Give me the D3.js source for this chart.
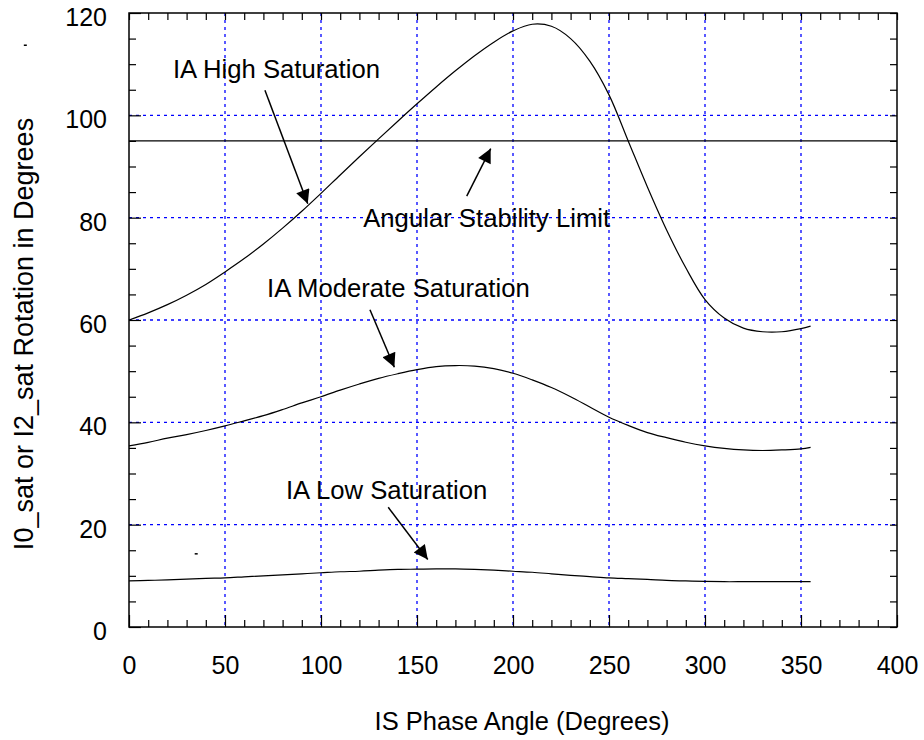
<!DOCTYPE html>
<html>
<head>
<meta charset="utf-8">
<script src="https://cdn.jsdelivr.net/npm/d3@7.9.0/dist/d3.min.js"></script>
<style>
  body { margin: 0; background: #fff; }
  svg text { font-family: 'Liberation Sans', Arial, sans-serif; fill: #000; }
</style>
</head>
<body>
<div id="chart"></div>
<script>
// Phase angle samples (degrees)
const phaseAngles = [0, 10, 20, 30, 40, 50, 60, 70, 80, 90, 100, 110, 120, 130, 140, 150, 160, 170,
  180, 190, 200, 210, 220, 230, 240, 250, 260, 270, 280, 290, 300, 310, 320, 330, 340, 350, 355];

// Rotation values per saturation level
const highSat = [60, 61.4, 63.0, 64.85, 66.95, 69.4, 72.0, 74.85, 77.95, 81.25, 84.75, 88.35, 91.9, 95.4,
  98.85, 102.25, 105.55, 108.7, 111.65, 114.3, 116.5, 117.8, 117.4, 115.0, 110.6, 104.0, 95.0, 86.0, 77.6,
  70.2, 64.0, 60.4, 58.4, 57.7, 57.7, 58.3, 58.8];
const moderateSat = [35.4, 36.1, 36.9, 37.6, 38.4, 39.3, 40.3, 41.3, 42.5, 43.8, 45.0, 46.3, 47.5, 48.6,
  49.5, 50.3, 50.9, 51.1, 51.0, 50.5, 49.6, 48.3, 46.8, 45.0, 43.0, 41.0, 39.4, 38.0, 37.0, 36.1, 35.4,
  34.9, 34.6, 34.5, 34.6, 34.8, 35.1];
const lowSat = [9.0, 9.1, 9.2, 9.35, 9.5, 9.6, 9.8, 10.0, 10.2, 10.4, 10.6, 10.8, 10.9, 11.1, 11.25, 11.3,
  11.35, 11.35, 11.25, 11.1, 10.9, 10.7, 10.4, 10.1, 9.85, 9.6, 9.45, 9.3, 9.1, 9.0, 8.9, 8.85, 8.85,
  8.85, 8.85, 8.85, 8.85];

const stabilityLimit = 95;

// Tick values
const xMajorTicks = [0, 50, 100, 150, 200, 250, 300, 350, 400];
const yMajorTicks = [0, 20, 40, 60, 80, 100, 120];
const xGrid = [50, 100, 150, 200, 250, 300, 350];
const yGrid = [20, 40, 60, 80, 100];

// Annotation labels (text baseline and arrow tail/tip in data units)
const labels = [
  { text: 'IA High Saturation', x: 76.8, y: 107.2, tail: [70.8, 104.9], tip: [93.1, 82.7] },
  { text: 'Angular Stability Limit', x: 186.3, y: 78.2, tail: [175.9, 84.2], tip: [188.4, 93.5] },
  { text: 'IA Moderate Saturation', x: 140.3, y: 64.5, tail: [125.5, 62.0], tip: [138.2, 50.75] },
  { text: 'IA Low Saturation', x: 134.2, y: 25.0, tail: [135.0, 23.4], tip: [155.6, 13.2] },
];

// small stray specks seen in the original
const specks = [[-54, 113.7], [35, 14.3]];

const width = 924;
const height = 740;
const margin = { top: 13, right: 27, bottom: 113, left: 129 };

const svg = d3
  .select('#chart')
  .append('svg')
  .attr('width', width)
  .attr('height', height);

const xScale = d3.scaleLinear().domain([0, 400]).range([margin.left, width - margin.right]);
const yScale = d3.scaleLinear().domain([0, 120]).range([height - margin.bottom, margin.top]);

const plotW = width - margin.left - margin.right;
const plotH = height - margin.top - margin.bottom;

// Gridlines
const grid = svg.append('g').attr('class', 'grid')
  .attr('stroke', '#0000ff').attr('stroke-width', 1.3).attr('stroke-dasharray', '3,4');
grid.selectAll('line.v').data(xGrid).join('line').attr('class', 'v')
  .attr('x1', (d) => xScale(d)).attr('x2', (d) => xScale(d))
  .attr('y1', margin.top).attr('y2', margin.top + plotH);
grid.selectAll('line.h').data(yGrid).join('line').attr('class', 'h')
  .attr('y1', (d) => yScale(d)).attr('y2', (d) => yScale(d))
  .attr('x1', margin.left).attr('x2', margin.left + plotW);

// Minor tick values
const xMinor = d3.range(0, 401, 10).filter((d) => d % 50 !== 0);
const yMinor = d3.range(0, 121, 5).filter((d) => d % 20 !== 0);

function styleAxis(g) {
  g.select('.domain').remove();
  g.selectAll('.tick line').attr('stroke', '#000').attr('stroke-width', 1.2);
}

// Bottom axis (major with labels, minor without)
svg.append('g')
  .attr('transform', `translate(0, ${margin.top + plotH})`)
  .call(d3.axisBottom(xScale).tickValues(xMajorTicks).tickSizeInner(-12).tickSizeOuter(0).tickPadding(29))
  .call(styleAxis)
  .call((g) => g.selectAll('text').attr('font-size', 25).attr('font-family', "'Liberation Sans', Arial, sans-serif"));
svg.append('g')
  .attr('transform', `translate(0, ${margin.top + plotH})`)
  .call(d3.axisBottom(xScale).tickValues(xMinor).tickFormat('').tickSizeInner(-7).tickSizeOuter(0))
  .call(styleAxis);

// Left axis
svg.append('g')
  .attr('transform', `translate(${margin.left}, 0)`)
  .call(d3.axisLeft(yScale).tickValues(yMajorTicks).tickSizeInner(-12).tickSizeOuter(0).tickPadding(22))
  .call(styleAxis)
  .call((g) => g.selectAll('text').attr('font-size', 25).attr('dy', '0.5em')
    .attr('font-family', "'Liberation Sans', Arial, sans-serif"));
svg.append('g')
  .attr('transform', `translate(${margin.left}, 0)`)
  .call(d3.axisLeft(yScale).tickValues(yMinor).tickFormat('').tickSizeInner(-7).tickSizeOuter(0))
  .call(styleAxis);

// Top and right axes: ticks only
svg.append('g')
  .attr('transform', `translate(0, ${margin.top})`)
  .call(d3.axisTop(xScale).tickValues(d3.range(0, 401, 10)).tickFormat('').tickSizeInner(-7).tickSizeOuter(0))
  .call(styleAxis);
svg.append('g')
  .attr('transform', `translate(${margin.left + plotW}, 0)`)
  .call(d3.axisRight(yScale).tickValues(d3.range(0, 121, 5)).tickFormat('').tickSizeInner(-7).tickSizeOuter(0))
  .call(styleAxis);

// Plot frame
svg.append('rect')
  .attr('x', margin.left).attr('y', margin.top)
  .attr('width', plotW).attr('height', plotH)
  .attr('fill', 'none').attr('stroke', '#000').attr('stroke-width', 1.5);

// Stability limit line
svg.append('line')
  .attr('x1', xScale(0)).attr('x2', xScale(400))
  .attr('y1', yScale(stabilityLimit)).attr('y2', yScale(stabilityLimit))
  .attr('stroke', '#000').attr('stroke-width', 1.2);

// Curves
const line = d3.line()
  .x((d) => xScale(d[0]))
  .y((d) => yScale(d[1]))
  .curve(d3.curveCatmullRom.alpha(0.5));

[highSat, moderateSat, lowSat].forEach((series) => {
  svg.append('path')
    .datum(phaseAngles.map((a, i) => [a, series[i]]))
    .attr('fill', 'none')
    .attr('stroke', '#000')
    .attr('stroke-width', 1.2)
    .attr('d', line);
});

// Arrow marker
svg.append('defs').append('marker')
  .attr('id', 'arrow')
  .attr('markerUnits', 'userSpaceOnUse')
  .attr('viewBox', '0 0 10 10')
  .attr('refX', 10).attr('refY', 5)
  .attr('markerWidth', 19).attr('markerHeight', 14)
  .attr('orient', 'auto')
  .append('path')
  .attr('d', 'M0,0 L10,5 L0,10 Z')
  .attr('fill', '#000');

// Annotations
const ann = svg.append('g').attr('class', 'annotations');
ann.selectAll('line').data(labels).join('line')
  .attr('x1', (d) => xScale(d.tail[0])).attr('y1', (d) => yScale(d.tail[1]))
  .attr('x2', (d) => xScale(d.tip[0])).attr('y2', (d) => yScale(d.tip[1]))
  .attr('stroke', '#000').attr('stroke-width', 1.5)
  .attr('marker-end', 'url(#arrow)');
ann.selectAll('text').data(labels).join('text')
  .attr('x', (d) => xScale(d.x)).attr('y', (d) => yScale(d.y))
  .attr('text-anchor', 'middle')
  .attr('font-size', 25.7)
  .text((d) => d.text);

// specks
svg.selectAll('line.speck').data(specks).join('line').attr('class', 'speck')
  .attr('x1', (d) => xScale(d[0]) - 1.5).attr('x2', (d) => xScale(d[0]) + 1.5)
  .attr('y1', (d) => yScale(d[1])).attr('y2', (d) => yScale(d[1]))
  .attr('stroke', '#000').attr('stroke-width', 1.5);

// Axis titles
svg.append('text')
  .attr('x', 522).attr('y', 730)
  .attr('text-anchor', 'middle')
  .attr('font-size', 25.5)
  .text('IS Phase Angle (Degrees)');

svg.append('text')
  .attr('transform', 'translate(33, 334) rotate(-90)')
  .attr('text-anchor', 'middle')
  .attr('font-size', 27)
  .text('I0_sat or I2_sat Rotation in Degrees');
</script>
</body>
</html>
